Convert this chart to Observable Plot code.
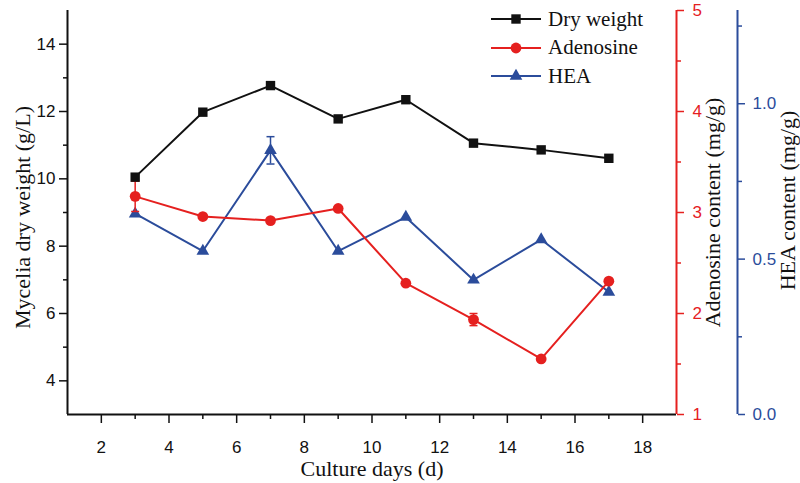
<!DOCTYPE html>
<html>
<head>
<meta charset="utf-8">
<script src="https://cdn.jsdelivr.net/npm/d3@7"></script>
<script src="https://cdn.jsdelivr.net/npm/@observablehq/plot@0.6"></script>
<style>
  html, body { margin: 0; padding: 0; background: #fff; }
  #wrap { position: relative; width: 800px; height: 483px; }
  #legend { position: absolute; left: 491px; top: 5px; font-family: "Liberation Serif", serif; font-size: 21px; color: #111; }
  #legend .row { display: flex; align-items: center; height: 28.5px; }
  #legend svg { margin-right: 7px; }
</style>
</head>
<body>
<div id="wrap"><div id="legend"></div></div>
<script>
// ---- data ----
const days = [3, 5, 7, 9, 11, 13, 15, 17];
const dryWeight = [10.05, 11.98, 12.77, 11.78, 12.35, 11.06, 10.86, 10.61];       // g/L
const adenosine = [3.16, 2.96, 2.92, 3.04, 2.30, 1.94, 1.55, 2.32];               // mg/g
const adenosineErr = [0.15, 0, 0, 0, 0, 0.06, 0, 0];
const hea = [0.646, 0.526, 0.850, 0.526, 0.635, 0.433, 0.563, 0.394];             // mg/g
const heaErr = [0, 0, 0.044, 0, 0, 0, 0, 0];

const xTicks = [2, 4, 6, 8, 10, 12, 14, 16, 18];
const xMinor = [3, 5, 7, 9, 11, 13, 15, 17];
const leftTicks = [4, 6, 8, 10, 12, 14];
const leftMinor = [5, 7, 9, 11, 13];
const adTicks = [1, 2, 3, 4, 5];
const adMinor = [1.5, 2.5, 3.5, 4.5];
const heaTicks = [0.0, 0.5, 1.0];
const heaMinor = [0.25, 0.75, 1.25];

const seriesNames = ["Dry weight", "Adenosine", "HEA"];
const colors = {black: "#111111", red: "#e5201f", blue: "#2b4c9b"};

// ---- scale domains ----
const xDomain = [1, 19];
const yDomain = [3, 15];       // dry weight (left)
const adDomain = [1, 5];       // adenosine (right, red)
const heaDomain = [0, 1.3];    // HEA (right, blue)

// map secondary-axis values into the left-axis coordinate system
const adToY = d3.scaleLinear().domain(adDomain).range(yDomain);
const heaToY = d3.scaleLinear().domain(heaDomain).range(yDomain);

const dwData = days.map((d, i) => ({day: d, v: dryWeight[i]}));
const adData = days.map((d, i) => ({day: d, v: adToY(adenosine[i]), lo: adToY(adenosine[i] - adenosineErr[i]), hi: adToY(adenosine[i] + adenosineErr[i]), err: adenosineErr[i]}));
const heaData = days.map((d, i) => ({day: d, v: heaToY(hea[i]), lo: heaToY(hea[i] - heaErr[i]), hi: heaToY(hea[i] + heaErr[i]), err: heaErr[i]}));

const capSymbol = {draw(ctx, size) { const r = 4; ctx.moveTo(-r, 0); ctx.lineTo(r, 0); }};

const serif = "Liberation Serif";
const sans = "Liberation Sans";
const blueOffset = 61;

const errMarks = (data, color) => {
  const e = data.filter(d => d.err > 0);
  return [
    Plot.ruleX(e, {x: "day", y1: "lo", y2: "hi", stroke: color, strokeWidth: 1.5}),
    Plot.dot(e, {x: "day", y: "lo", symbol: capSymbol, stroke: color, strokeWidth: 1.5, fill: "none", r: 4}),
    Plot.dot(e, {x: "day", y: "hi", symbol: capSymbol, stroke: color, strokeWidth: 1.5, fill: "none", r: 4})
  ];
};

const chart = Plot.plot({
  width: 800,
  height: 483,
  marginLeft: 67,
  marginRight: 124,
  marginTop: 10,
  marginBottom: 69,
  style: {fontFamily: sans, fontSize: "17px", background: "#fff", color: "#111"},
  x: {domain: xDomain},
  y: {domain: yDomain},
  marks: [
    // bottom axis
    Plot.axisX({ticks: xTicks, tickSize: 9, tickPadding: 17, strokeWidth: 1.5, label: null, fontSize: 17}),
    Plot.axisX({ticks: xMinor, tickSize: 5, stroke: colors.black, fill: "none", strokeWidth: 1.5, label: null}),
    // left axis
    Plot.axisY({ticks: leftTicks, anchor: "left", tickSize: 8, tickPadding: 4, strokeWidth: 1.5, label: null, fontSize: 17}),
    Plot.axisY({ticks: leftMinor, anchor: "left", tickSize: 4, stroke: colors.black, fill: "none", strokeWidth: 1.5, label: null}),
    // red right axis
    Plot.axisY(adTicks.map(adToY), {anchor: "right", tickSize: 7, tickPadding: 9, color: colors.red, strokeWidth: 1.5, label: null, fontSize: 17,
      tickFormat: d => d3.format("d")(Math.round(adToY.invert(d)))}),
    Plot.axisY(adMinor.map(adToY), {anchor: "right", tickSize: 4, stroke: colors.red, fill: "none", strokeWidth: 1.5, label: null}),
    // blue right axis
    Plot.axisY(heaTicks.map(heaToY), {anchor: "right", dx: blueOffset, tickSize: 7, tickPadding: 8, color: colors.blue, strokeWidth: 1.5, label: null, fontSize: 17,
      tickFormat: d => d3.format(".1f")(heaToY.invert(d))}),
    Plot.axisY(heaMinor.map(heaToY), {anchor: "right", dx: blueOffset, tickSize: 4, stroke: colors.blue, fill: "none", strokeWidth: 1.5, label: null}),
    // axis lines
    Plot.ruleY([yDomain[0]], {stroke: colors.black, strokeWidth: 2}),
    Plot.ruleX([xDomain[0]], {stroke: colors.black, strokeWidth: 2}),
    Plot.ruleX([xDomain[1]], {stroke: colors.red, strokeWidth: 2}),
    Plot.ruleX([xDomain[1]], {stroke: colors.blue, strokeWidth: 2, dx: blueOffset}),
    // axis titles
    Plot.text(["Mycelia dry weight (g/L)"], {frameAnchor: "left", dx: -45, dy: 5, rotate: -90, textAnchor: "middle", lineAnchor: "middle", fontFamily: serif, fontSize: 22, fill: colors.black}),
    Plot.text(["Adenosine content (mg/g)"], {frameAnchor: "right", dx: 36, rotate: -90, textAnchor: "middle", lineAnchor: "middle", fontFamily: serif, fontSize: 22, fill: colors.black}),
    Plot.text(["HEA content (mg/g)"], {frameAnchor: "right", dx: 111, dy: -12, rotate: -90, textAnchor: "middle", lineAnchor: "middle", fontFamily: serif, fontSize: 22, fill: colors.black}),
    Plot.text(["Culture days (d)"], {frameAnchor: "bottom", dy: 54, textAnchor: "middle", lineAnchor: "middle", fontFamily: serif, fontSize: 22, fill: colors.black}),
    // HEA series
    Plot.line(heaData, {x: "day", y: "v", stroke: colors.blue, strokeWidth: 2}),
    ...errMarks(heaData, colors.blue),
    Plot.dot(heaData, {x: "day", y: "v", symbol: "triangle", r: 4.7, fill: colors.blue, stroke: "none"}),
    // adenosine series
    Plot.line(adData, {x: "day", y: "v", stroke: colors.red, strokeWidth: 2}),
    ...errMarks(adData, colors.red),
    Plot.dot(adData, {x: "day", y: "v", symbol: "circle", r: 5.4, fill: colors.red, stroke: "none"}),
    // dry weight series
    Plot.line(dwData, {x: "day", y: "v", stroke: colors.black, strokeWidth: 2}),
    Plot.dot(dwData, {x: "day", y: "v", symbol: "square", r: 5.3, fill: colors.black, stroke: "none"})
  ]
});
document.getElementById("wrap").prepend(chart);

// ---- legend ----
const legendItems = [
  {name: seriesNames[0], color: colors.black, symbol: d3.symbolSquare, size: Math.PI * 5.3 * 5.3},
  {name: seriesNames[1], color: colors.red, symbol: d3.symbolCircle, size: Math.PI * 5.4 * 5.4},
  {name: seriesNames[2], color: colors.blue, symbol: d3.symbolTriangle, size: Math.PI * 4.7 * 4.7}
];
const legend = d3.select("#legend");
for (const it of legendItems) {
  const row = legend.append("div").attr("class", "row");
  const s = row.append("svg").attr("width", 50).attr("height", 20);
  s.append("line").attr("x1", 0).attr("x2", 50).attr("y1", 10).attr("y2", 10).attr("stroke", it.color).attr("stroke-width", 2);
  s.append("path").attr("transform", "translate(25,10)").attr("d", d3.symbol(it.symbol, it.size)()).attr("fill", it.color);
  row.append("span").text(it.name);
}
</script>
</body>
</html>
